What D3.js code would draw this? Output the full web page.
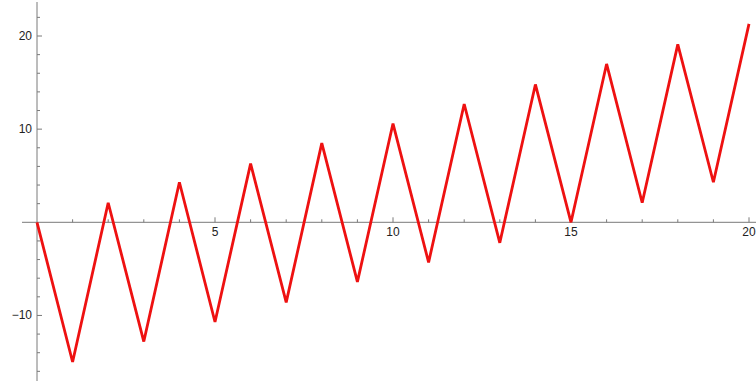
<!DOCTYPE html>
<html><head><meta charset="utf-8">
<script src="https://cdn.jsdelivr.net/npm/d3@7"></script>
<style>body{margin:0;background:#fff}svg{display:block}</style>
</head><body>
<svg id="c" width="756" height="383"></svg>
<script>
const xs = [0,1,2,3,4,5,6,7,8,9,10,11,12,13,14,15,16,17,18,19,20];
const ys = [0,-15,2.1,-12.8,4.3,-10.7,6.3,-8.6,8.5,-6.4,10.6,-4.3,12.7,-2.2,14.8,0,17.0,2.1,19.1,4.3,21.3];
const xMajorTicks = [5,10,15,20];
const yMajorTicks = [-10,10,20];
const xMinorTicks = [1,2,3,4,6,7,8,9,11,12,13,14,16,17,18,19];
const yMinorTicks = [-16,-14,-12,-8,-6,-4,-2,2,4,6,8,12,14,16,18,22];

const svg = d3.select("#c");
const x = d3.scaleLinear().domain([0,20]).range([37,749]);
const y = d3.scaleLinear().domain([0,20]).range([222.3,36]);
const axisColor = "#7a7a7a";
const g = svg.append("g");

g.append("line").attr("x1",22).attr("x2",756).attr("y1",y(0)).attr("y2",y(0))
 .attr("stroke",axisColor).attr("stroke-width",1);
g.append("line").attr("x1",x(0)).attr("x2",x(0)).attr("y1",2).attr("y2",381)
 .attr("stroke",axisColor).attr("stroke-width",1);

g.selectAll(".xmin").data(xMinorTicks).enter().append("line")
 .attr("x1",d=>x(d)).attr("x2",d=>x(d)).attr("y1",y(0)).attr("y2",y(0)-3)
 .attr("stroke",axisColor);
g.selectAll(".xmaj").data(xMajorTicks).enter().append("line")
 .attr("x1",d=>x(d)).attr("x2",d=>x(d)).attr("y1",y(0)).attr("y2",y(0)-5)
 .attr("stroke",axisColor);
g.selectAll(".xl").data(xMajorTicks).enter().append("text")
 .attr("x",d=>x(d)).attr("y",y(0)+14).attr("text-anchor","middle")
 .attr("font-family","Liberation Sans, Arial, sans-serif").attr("font-size",12).attr("fill","#222")
 .text(d=>d);

g.selectAll(".ymin").data(yMinorTicks).enter().append("line")
 .attr("x1",x(0)).attr("x2",x(0)+3).attr("y1",d=>y(d)).attr("y2",d=>y(d))
 .attr("stroke",axisColor);
g.selectAll(".ymaj").data(yMajorTicks).enter().append("line")
 .attr("x1",x(0)).attr("x2",x(0)+5).attr("y1",d=>y(d)).attr("y2",d=>y(d))
 .attr("stroke",axisColor);
g.selectAll(".yl").data(yMajorTicks).enter().append("text")
 .attr("x",x(0)-5).attr("y",d=>y(d)+4).attr("text-anchor","end")
 .attr("font-family","Liberation Sans, Arial, sans-serif").attr("font-size",12).attr("fill","#222")
 .text(d=>d<0?"\u2212"+Math.abs(d):d);

const line = d3.line().x((d,i)=>x(xs[i])).y(d=>y(d));
svg.append("path").datum(ys).attr("d",line).attr("fill","none")
 .attr("stroke","#ee1111").attr("stroke-width",2.8).attr("stroke-linejoin","miter");
</script>
</body></html>
